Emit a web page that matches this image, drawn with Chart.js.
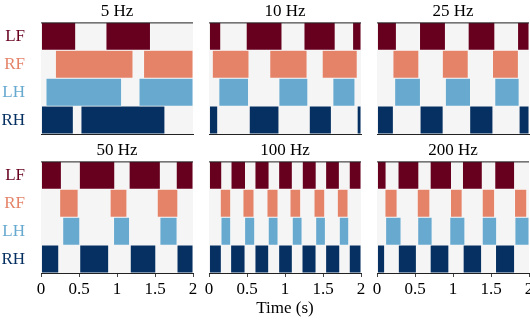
<!DOCTYPE html>
<html lang="en">
<head>
<meta charset="UTF-8">
<title>Gait diagrams</title>
<script src="https://cdn.jsdelivr.net/npm/chart.js"></script>
<style>
  body { margin: 0; background: #fff; }
  #wrap { position: relative; width: 530px; height: 324px; overflow: hidden; }
  #wrap canvas { position: absolute; }
</style>
</head>
<body>
<div id="wrap">
  <canvas id="p0"></canvas>
  <canvas id="p1"></canvas>
  <canvas id="p2"></canvas>
  <canvas id="p3"></canvas>
  <canvas id="p4"></canvas>
  <canvas id="p5"></canvas>
</div>
<script>
const legs = ['LF', 'RF', 'LH', 'RH'];
const legColors = ['#67001f', '#e58368', '#67a9cf', '#053061'];
const freqLabels = ['5 Hz', '10 Hz', '25 Hz', '50 Hz', '100 Hz', '200 Hz'];
const timeTicks = [0, 0.5, 1, 1.5, 2];

// stance intervals in seconds, one list per leg (LF, RF, LH, RH)
const stance5 = [
  [[0, 0.456], [0.855, 1.44]],
  [[0.19, 1.21], [1.35, 2]],
  [[0.066, 1.06], [1.29, 2]],
  [[0, 0.425], [0.526, 1.63]]
];
const stance10 = [
  [[0, 0.154], [0.49, 0.96], [1.25, 1.66], [1.89, 2]],
  [[0.044, 0.526], [0.8, 1.29], [1.49, 1.95]],
  [[0.13, 0.52], [0.92, 1.3], [1.63, 1.92]],
  [[0, 0.114], [0.53, 0.92], [1.32, 1.61], [1.95, 2]]
];
const stance25 = [
  [[0, 0.255], [0.56, 0.9], [1.2, 1.55], [1.85, 2]],
  [[0.21, 0.55], [0.86, 1.2], [1.52, 1.86]],
  [[0.233, 0.571], [0.9, 1.23], [1.55, 1.87]],
  [[0, 0.215], [0.567, 0.87], [1.22, 1.525], [1.87, 2]]
];
const stance50 = [
  [[0, 0.268], [0.505, 0.97], [1.16, 1.57], [1.78, 2]],
  [[0.246, 0.488], [0.91, 1.13], [1.53, 1.8]],
  [[0.286, 0.51], [0.955, 1.165], [1.565, 1.79]],
  [[0, 0.233], [0.51, 0.89], [1.175, 1.51], [1.79, 2]]
];
const stance100 = [
  [[0, 0.167], [0.29, 0.48], [0.605, 0.79], [0.917, 1.096], [1.228, 1.41], [1.535, 1.715], [1.846, 2]],
  [[0.149, 0.285], [0.447, 0.592], [0.763, 0.908], [1.066, 1.206], [1.382, 1.522], [1.689, 1.829]],
  [[0.158, 0.285], [0.469, 0.601], [0.78, 0.908], [1.096, 1.224], [1.404, 1.531], [1.715, 1.838]],
  [[0, 0.162], [0.285, 0.474], [0.605, 0.785], [0.917, 1.096], [1.224, 1.408], [1.535, 1.72], [1.846, 2]]
];
const stance200 = [
  [[0, 0.119], [0.277, 0.55], [0.7, 0.98], [1.125, 1.385], [1.55, 1.81]],
  [[0.105, 0.264], [0.53, 0.695], [0.967, 1.12], [1.385, 1.547], [1.81, 1.97]],
  [[0.114, 0.316], [0.536, 0.725], [0.958, 1.156], [1.385, 1.574], [1.815, 2]],
  [[0, 0.1], [0.281, 0.518], [0.7, 0.945], [1.134, 1.376], [1.56, 1.81]]
];
const panels = [stance5, stance10, stance25, stance50, stance100, stance200];

const serif = "'Liberation Serif', 'DejaVu Serif', serif";

// panel boxes on the page (plot area), plus side room for edge tick labels
const colLeft = [0, 209, 377];
const colWidth = [193, 152, 152];
const rowTop = [0, 139];
const rowHeight = [135, 185];
const side = 8;

const panelFrame = {
  id: 'panelFrame',
  beforeDraw(chart) {
    const { ctx, chartArea: a } = chart;
    ctx.save();
    ctx.fillStyle = '#f5f5f5';
    ctx.fillRect(a.left, a.top, a.right - a.left, a.bottom - a.top);
    ctx.restore();
  },
  afterDraw(chart) {
    const { ctx, chartArea: a } = chart;
    ctx.save();
    ctx.strokeStyle = '#222';
    ctx.lineWidth = 1;
    ctx.beginPath();
    ctx.moveTo(a.left, a.top + 0.5);
    ctx.lineTo(a.right, a.top + 0.5);
    ctx.stroke();
    ctx.restore();
  }
};

function noPad(scale) {
  scale.paddingTop = 0;
  scale.paddingBottom = 0;
  scale.paddingLeft = 0;
  scale.paddingRight = 0;
}

panels.forEach((stance, p) => {
  const row = p < 3 ? 0 : 1;
  const col = p % 3;
  const padLeft = col === 0 ? 0 : side;
  const canvas = document.getElementById('p' + p);
  canvas.width = colWidth[col] + padLeft + side;
  canvas.height = rowHeight[row];
  canvas.style.left = (colLeft[col] - padLeft) + 'px';
  canvas.style.top = rowTop[row] + 'px';

  const datasets = [];
  stance.forEach((segs, j) => {
    segs.forEach(seg => {
      datasets.push({
        label: legs[j],
        data: legs.map((_, i) => (i === j ? seg : null)),
        backgroundColor: legColors[j],
        borderColor: 'rgba(255,255,255,0.35)',
        borderWidth: 0.8,
        borderSkipped: false,
        grouped: false,
        barPercentage: 1,
        categoryPercentage: 1
      });
    });
  });

  const bottomRow = row === 1;
  const middle = p === 4;

  new Chart(canvas.getContext('2d'), {
    type: 'bar',
    data: { labels: legs, datasets: datasets },
    options: {
      indexAxis: 'y',
      responsive: false,
      animation: false,
      devicePixelRatio: 1,
      layout: { padding: { left: padLeft, right: side, top: 0, bottom: 0 } },
      scales: {
        x: {
          type: 'linear',
          min: 0,
          max: 2,
          afterBuildTicks: scale => { scale.ticks = timeTicks.map(v => ({ value: v })); },
          afterFit: scale => { scale.height = bottomRow ? 51 : 1; noPad(scale); },
          border: { display: true, color: '#222', width: 1 },
          grid: {
            display: true,
            drawOnChartArea: false,
            drawTicks: bottomRow,
            tickLength: 4,
            color: '#444'
          },
          ticks: {
            display: bottomRow,
            padding: 2,
            color: '#000',
            maxRotation: 0,
            callback: v => String(v),
            font: { family: serif, size: 17 }
          },
          title: {
            display: middle,
            text: 'Time (s)',
            color: '#000',
            padding: { top: 0, bottom: 5 },
            font: { family: serif, size: 17 }
          }
        },
        y: {
          display: col === 0,
          afterFit: scale => { scale.width = col === 0 ? 41 : 0; noPad(scale); },
          border: { display: false },
          grid: { display: false },
          ticks: {
            padding: 8,
            color: ctx => legColors[ctx.index],
            font: { family: serif, size: 17 }
          }
        }
      },
      plugins: {
        legend: { display: false },
        tooltip: { enabled: false },
        title: {
          display: true,
          text: freqLabels[p],
          fullSize: false,
          color: '#000',
          padding: { top: 1, bottom: 1 },
          font: { family: serif, size: 17, weight: 'normal' }
        }
      }
    },
    plugins: [panelFrame]
  });
});
</script>
</body>
</html>
